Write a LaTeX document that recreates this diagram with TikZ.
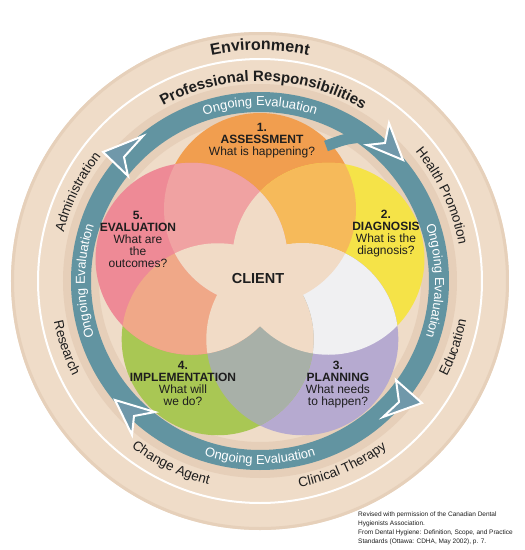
\documentclass[tikz,border=0pt]{standalone}
\usepackage{fontspec}
\setmainfont{Liberation Sans}
\usetikzlibrary{decorations.text}

\definecolor{diskbg}{HTML}{EFDCC8}
\definecolor{diskedge}{HTML}{E6D0BA}
\definecolor{ringshade}{HTML}{E6CFB9}
\definecolor{starbg}{HTML}{F1DBC6}
\definecolor{ringteal}{HTML}{6294A1}
\definecolor{arrowfill}{HTML}{7098AA}
\definecolor{txt}{HTML}{1E1E1E}
\definecolor{assesscol}{HTML}{F19E4F}
\definecolor{diagcol}{HTML}{F5E348}
\definecolor{plancol}{HTML}{B6AAD0}
\definecolor{implcol}{HTML}{A9C754}
\definecolor{evalcol}{HTML}{EE8A96}
\definecolor{ovAD}{HTML}{F6BA5A}
\definecolor{ovDP}{HTML}{F0F0F2}
\definecolor{ovPI}{HTML}{A8B0A8}
\definecolor{ovIE}{HTML}{F0A888}
\definecolor{ovEA}{HTML}{F0A2A2}

\newcommand{\headfont}{\bfseries\fontsize{15}{15}\selectfont}
\newcommand{\envfont}{\bfseries\fontsize{16}{16}\selectfont}
\newcommand{\ringfont}{\fontsize{13.5}{13.5}\selectfont}
\newcommand{\evalfont}{\fontsize{13}{13}\selectfont}

\tikzset{
  ringlabel/.style={decorate,decoration={text along path,text align=center,text color=txt,text={#1}}},
  evallabel/.style={decorate,decoration={text along path,text align=center,text color=white,text={|\evalfont|#1}}},
  petaltext/.style={align=center,inner sep=0pt,text=txt,font=\fontsize{12}{12}\selectfont},
  arrowhead/.style={fill=arrowfill,draw=white,line width=2pt,line join=miter}
}

\begin{document}
\begin{tikzpicture}[x=1pt,y=1pt]
\def\pd{72}
\def\pr{96}
\useasboundingbox[fill=white] (-260,-269) rectangle (265,281);
% rings
\fill[diskbg] (0,0) circle (249);
\draw[diskedge,line width=3pt] (0,0) circle (247.5);
\draw[white,line width=2pt] (0,0) circle (222);
\draw[ringshade,line width=36pt] (0,0) circle (179);
% petals
\fill[assesscol] (90:\pd) circle (\pr);
\fill[diagcol] (18:\pd) circle (\pr);
\fill[plancol] (-54:\pd) circle (\pr);
\fill[implcol] (-126:\pd) circle (\pr);
\fill[evalcol] (162:\pd) circle (\pr);
\foreach \a/\b/\col in {90/18/ovAD,18/-54/ovDP,-54/-126/ovPI,-126/162/ovIE,162/90/ovEA}{
  \begin{scope}
    \clip (\a:\pd) circle (\pr);
    \fill[\col] (\b:\pd) circle (\pr);
  \end{scope}
}
% client star
\foreach \a/\b/\c in {90/18/-54,90/18/-126,90/18/162,90/-54/-126,90/-54/162,90/-126/162,18/-54/-126,18/-54/162,18/-126/162,-54/-126/162}{
  \begin{scope}
    \clip (\a:\pd) circle (\pr);
    \clip (\b:\pd) circle (\pr);
    \fill[starbg] (\c:\pd) circle (\pr);
  \end{scope}
}
% ongoing evaluation ring
\draw[ringteal,line width=20pt] (0,0) circle (179);
\draw[ringteal,line width=11pt] (102,144) .. controls (85,142) .. (66,135);
\draw[arrowhead] (-157,129) -- (-117,145) -- (-136,124) -- (-132,105) -- cycle;
\draw[arrowhead] (143,121) -- (129,158) -- (125,138) -- (107,136) -- cycle;
\draw[arrowhead] (162,-122) -- (136,-99) -- (139,-121) -- (123,-136) -- cycle;
\draw[arrowhead] (-145,-119) -- (-105,-131) -- (-126,-135) -- (-128,-154) -- cycle;
% ring texts
\path[ringlabel={|\envfont|Environment}] (130:231) arc[start angle=130,end angle=50,radius=231];
\path[ringlabel={|\headfont|Professional Responsibilities}] (139:200) arc[start angle=139,end angle=39,radius=200];
\path[ringlabel={|\ringfont|Administration}] (194:202) arc[start angle=194,end angle=114,radius=202];
\path[ringlabel={|\ringfont|Health Promotion}] (65:202) arc[start angle=65,end angle=-15,radius=202];
\path[ringlabel={|\ringfont|Education}] (-59:210) arc[start angle=-59,end angle=21,radius=210];
\path[ringlabel={|\ringfont|Clinical Therapy}] (-106:210) arc[start angle=-106,end angle=-26,radius=210];
\path[ringlabel={|\ringfont|Change Agent}] (-156:210) arc[start angle=-156,end angle=-76,radius=210];
\path[ringlabel={|\ringfont|Research}] (159:210) arc[start angle=159,end angle=239,radius=210];
\path[evallabel={Ongoing Evaluation}] (130:175) arc[start angle=130,end angle=50,radius=175];
\path[evallabel={Ongoing Evaluation}] (40:175) arc[start angle=40,end angle=-40,radius=175];
\path[evallabel={Ongoing Evaluation}] (220:175) arc[start angle=220,end angle=140,radius=175];
\path[evallabel={Ongoing Evaluation}] (-130:183) arc[start angle=-130,end angle=-50,radius=183];
% petal texts
\node[petaltext] (assess) at (2,140) {\textbf{1.}\\\textbf{ASSESSMENT}\\What is happening?};
\node[petaltext] (diag) at (126,47) {\textbf{2.}\\\textbf{DIAGNOSIS}\\What is the\\diagnosis?};
\node[petaltext] (plan) at (78,-104) {\textbf{3.}\\\textbf{PLANNING}\\What needs\\to happen?};
\node[petaltext] (impl) at (-77,-102) {\textbf{4.}\\\textbf{IMPLEMENTATION}\\What will\\we do?};
\node[petaltext] (evalu) at (-122,42) {\textbf{5.}\\\textbf{EVALUATION}\\What are\\the\\outcomes?};
\node[inner sep=0pt,text=txt,font=\bfseries\fontsize{14.5}{14.5}\selectfont] (client) at (-2,2) {CLIENT};
% credit line
\node[anchor=north west,inner sep=0pt,align=left,text=txt,font=\fontsize{6.5}{8.7}\selectfont] (credit) at (98,-231)
  {Revised with permission of the Canadian Dental\\Hygienists Association.\\From Dental Hygiene: Definition, Scope, and Practice\\Standards (Ottawa: CDHA, May 2002), p. 7.};
\end{tikzpicture}
\end{document}
